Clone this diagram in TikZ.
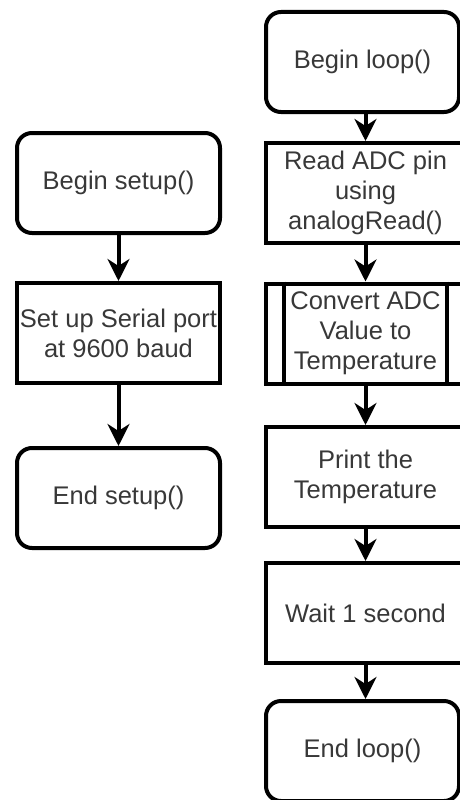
\documentclass[tikz,border=0pt]{standalone}
\usepackage{fontspec}
\setmainfont{Liberation Sans}
\usetikzlibrary{arrows.meta, positioning}

\begin{document}
\begin{tikzpicture}[x=1pt, y=-1pt, >={Stealth[length=22pt, width=22pt, inset=7pt]},
      box/.style={draw, line width=4pt, minimum height=100pt, inner sep=1pt, align=center,
                  text=black!78, font=\fontsize{25.5}{30}\selectfont},
      term/.style={box, rounded corners=15pt},
      proc/.style={box},
      flow/.style={->, line width=4pt}]

    \useasboundingbox (0,0) rectangle (460,800);
    \clip (0,0) rectangle (460,800);

    % setup() column
    \node[term, minimum width=203pt] (bsetup) at (118.5,183) {Begin setup()};
    \node[proc, minimum width=203pt] (serial) at (118.5,333) {Set up Serial port\\at 9600 baud};
    \node[term, minimum width=203pt] (esetup) at (118.5,498) {End setup()};

    \draw[flow] (bsetup) -- (serial);
    \draw[flow] (serial) -- (esetup);

    % loop() column, runs off the right edge
    \node[term, minimum width=193pt] (bloop)   at (362.5,62)  {Begin loop()};
    \node[proc, minimum width=199pt] (readadc) at (365.5,193) {Read ADC pin\\using\\analogRead()};
    \node[proc, minimum width=199pt] (convert) at (365.5,333.5) {Convert ADC\\Value to\\Temperature};
    \node[proc, minimum width=199pt] (print)   at (365.5,477) {Print the\\Temperature};
    \node[proc, minimum width=199pt] (wait)    at (365.5,613) {Wait 1 second};
    \node[term, minimum width=193pt] (eloop)   at (362.5,751) {End loop()};

    % predefined process bars
    \draw[line width=4pt] ([xshift=20pt]convert.north west) -- ([xshift=20pt]convert.south west);
    \draw[line width=4pt] ([xshift=-20pt]convert.north east) -- ([xshift=-20pt]convert.south east);

    \draw[flow] (bloop.south -| readadc) -- (readadc);
    \draw[flow] (readadc) -- (convert);
    \draw[flow] (convert) -- (print);
    \draw[flow] (print) -- (wait);
    \draw[flow] (wait) -- (eloop.north -| wait);

\end{tikzpicture}
\end{document}
